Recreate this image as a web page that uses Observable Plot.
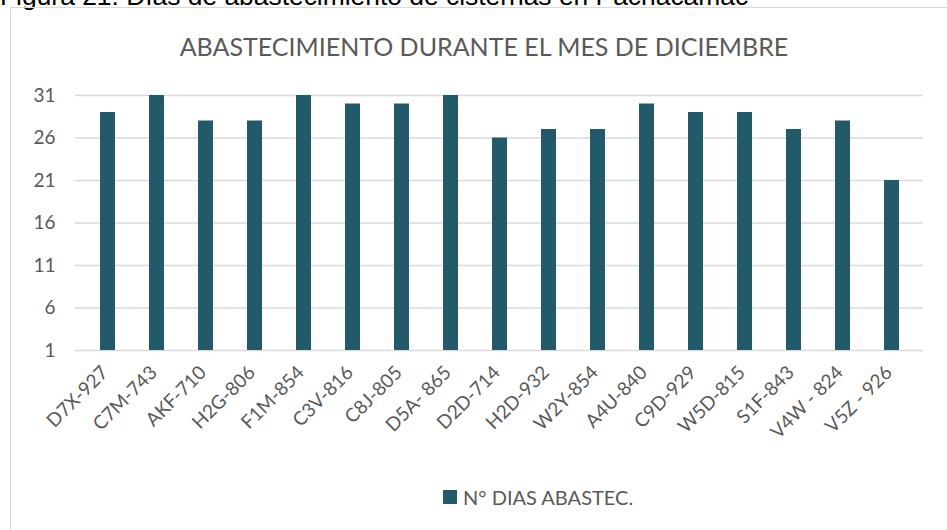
<!DOCTYPE html>
<html><head><meta charset="utf-8">
<script src="https://cdn.jsdelivr.net/npm/d3@7"></script>
<script src="https://cdn.jsdelivr.net/npm/@observablehq/plot@0.6"></script>
<style>
body{margin:0;background:#fff;width:947px;height:530px;overflow:hidden;position:relative;font-family:Lato,"Open Sans",sans-serif;}
#cap{position:absolute;left:0;top:-17px;line-height:1;font-family:"Liberation Sans",Arial,sans-serif;font-size:26.4px;color:#000;white-space:nowrap;}
#box{position:absolute;left:10px;top:7px;width:945px;height:540px;border:1.5px solid #d9d9d9;box-sizing:border-box;}
#title{position:absolute;left:0;width:968px;top:31px;text-align:center;font-size:25px;color:#595959;}
#chart{position:absolute;left:0;top:0;}
#legend{position:absolute;left:443px;top:485px;font-size:20px;color:#595959;display:flex;align-items:center;}
#legend span.sw{display:inline-block;width:14px;height:14px;background:#225A69;margin-right:6px;}
</style></head><body>
<div id="cap">Figura 21. Días de abastecimiento de cisternas en Pachacamac</div>
<div id="box"></div>
<div id="title">ABASTECIMIENTO DURANTE EL MES DE DICIEMBRE</div>
<div id="chart"></div>
<div id="legend"><span class="sw"></span>N° DIAS ABASTEC.</div>
<script>
const categories = ["D7X-927","C7M-743","AKF-710","H2G-806","F1M-854","C3V-816","C8J-805","D5A- 865","D2D-714","H2D-932","W2Y-854","A4U-840","C9D-929","W5D-815","S1F-843","V4W - 824","V5Z - 926"];
const dias = [29,31,28,28,31,30,30,31,26,27,27,30,29,29,27,28,21];
const yTicks = [1,6,11,16,21,26,31];
const data = categories.map((c,i)=>({cat:c, v:dias[i]}));
const plot = Plot.plot({
  width: 947, height: 470,
  marginTop: 95, marginBottom: 120, marginLeft: 75, marginRight: 24,
  style: {fontFamily: "Lato, 'Open Sans', sans-serif", fontSize: "19px", color: "#595959", background: "transparent"},
  x: {domain: categories, paddingInner: 0.7, paddingOuter: 0.35, label: null},
  y: {domain: [1, 31], label: null},
  marks: [
    Plot.gridY(yTicks, {stroke: "#d9d9d9", strokeOpacity: 1, strokeWidth: 1.5}),
    Plot.barY(data, {x: "cat", y1: 1, y2: "v", fill: "#225A69"}),
    Plot.axisY({ticks: yTicks, tickSize: 0, tickPadding: 20, label: null}),
    Plot.axisX({tickSize: 0, tickRotate: -45, tickPadding: 10, dy: 9, dx: -3, label: null})
  ]
});
document.getElementById("chart").append(plot);
</script>
</body></html>
